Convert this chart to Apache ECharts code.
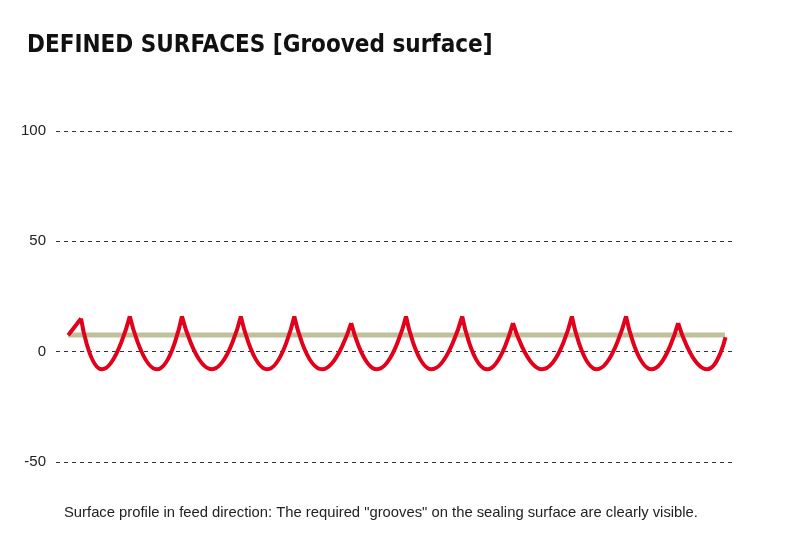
<!DOCTYPE html>
<html>
<head>
<meta charset="utf-8">
<script src="https://cdn.jsdelivr.net/npm/echarts@6/dist/echarts.min.js"></script>
<style>html,body{margin:0;padding:0;background:#fff;}#c{width:800px;height:533px;}</style>
</head>
<body>
<div id="c"></div>
<script>
// Values (x: 0..100 along the profile, y: profile height)
const yTicks = [-50, 0, 50, 100];
const startPoint = [1.8, 7.4];
const endPoint = [98.9, 6.5];
const peakX = [3.7, 10.9, 18.6, 27.3, 35.2, 43.6, 51.7, 60.0, 67.5, 76.2, 84.2, 91.9];
const peakY = [15, 16, 16, 16, 16, 13, 16, 16, 13, 16, 16, 13];
const troughX = [6.8, 14.9, 23.0, 31.2, 39.3, 47.4, 55.5, 63.7, 71.8, 79.9, 88.0, 96.2];
const troughY = [-8, -8, -8, -8, -8, -8, -8, -8, -8, -8, -8, -8];
const baseX = [1.8, 98.8];
const baseY = [7.5, 7.5];

const titleText = 'DEFINED SURFACES [Grooved surface]';
const captionText = 'Surface profile in feed direction: The required "grooves" on the sealing surface are clearly visible.';

// Build profile: each groove is its own smoothed segment (cusps at the peaks)
const profile = [startPoint, [peakX[0], peakY[0]]];
for (let i = 0; i < troughX.length; i++) {
  profile.push([peakX[i], '-']);
  profile.push([peakX[i], peakY[i]]);
  profile.push([troughX[i], troughY[i]]);
  if (i + 1 < peakX.length) profile.push([peakX[i + 1], peakY[i + 1]]);
  else profile.push(endPoint);
}
const base = baseX.map((x, i) => [x, baseY[i]]);

const chart = echarts.init(document.getElementById('c'), null, {renderer: 'canvas'});
chart.setOption({
  animation: false,
  backgroundColor: '#ffffff',
  title: {
    text: titleText,
    left: 22, top: 29,
    textStyle: {fontFamily: '"DejaVu Sans Condensed", "Liberation Sans Narrow", sans-serif', fontWeight: 'bold', fontSize: 24, color: '#111'}
  },
  graphic: [{
    type: 'text', left: 64, top: 505,
    style: {text: captionText, font: '14.8px "Liberation Sans", sans-serif', fill: '#222'}
  }],
  grid: {left: 56, right: 67, top: 131, bottom: 71},
  xAxis: {type: 'value', min: 0, max: 100, show: false},
  yAxis: {
    type: 'value', min: yTicks[0], max: yTicks[yTicks.length - 1], interval: 50,
    axisLine: {show: false}, axisTick: {show: false},
    axisLabel: {margin: 10, color: '#222', fontSize: 15, fontFamily: '"Liberation Sans", sans-serif'},
    splitLine: {lineStyle: {color: '#333', type: [4, 4], width: 1}}
  },
  series: [
    {type: 'line', data: base, symbol: 'none', lineStyle: {color: '#bfc09c', width: 5}, z: 2},
    {type: 'line', data: profile, symbol: 'none', smooth: 0.55, connectNulls: false,
     lineStyle: {color: '#e2001a', width: 4, join: 'miter'}, z: 3}
  ]
});
</script>
</body>
</html>
